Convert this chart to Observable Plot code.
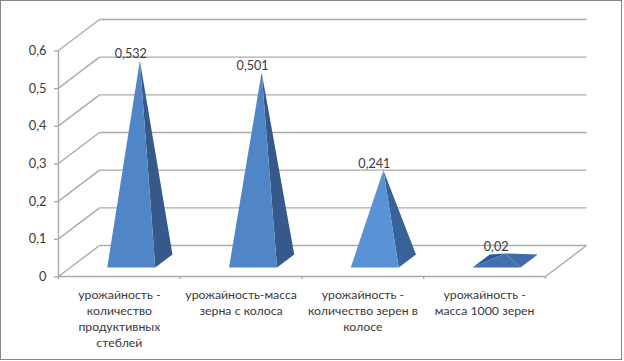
<!DOCTYPE html>
<html><head><meta charset="utf-8">
<script src="https://cdn.jsdelivr.net/npm/d3@7"></script>
<script src="https://cdn.jsdelivr.net/npm/@observablehq/plot@0.6"></script>
<style>
html,body{margin:0;padding:0;background:#fff;overflow:hidden}
#wrap{position:relative;width:624px;height:361px}
#wrap svg{display:block;position:absolute;left:0;top:0}
#frame{position:absolute;left:0;top:0;width:620px;height:358px;border:1.5px solid #868686;pointer-events:none}
</style></head><body>
<div id="wrap"><div id="frame"></div></div>
<script>
const categories = [
  "урожайность -\nколичество\nпродуктивных\nстеблей",
  "урожайность-масса\nзерна с колоса",
  "урожайность -\nколичество зерен в\nколосе",
  "урожайность -\nмасса 1000 зерен"
];
const values = [0.532, 0.501, 0.241, 0.02];
const valueLabels = ["0,532", "0,501", "0,241", "0,02"];
const yTicks = [0, 0.1, 0.2, 0.3, 0.4, 0.5, 0.6];
const frontColors = ["#5085c6", "#5085c6", "#5a92d6", "#4270ae"];
const sideColors = ["#35598a", "#35598a", "#38629a", "#3d6ca6"];

// oblique 3-D projection, in data units
const depthX = 0.3368, depthY = 0.0823;
const P = (c, v, d) => ({x: c + d * depthX, y: v + d * depthY});
const halfW = 0.197, d0 = 0.29, d1 = 0.71;

const grey = "#ababab", sw = 1.4;
const seg = (a, b) => ({x1: a.x, y1: a.y, x2: b.x, y2: b.y});
const backLines = yTicks.map(v => seg(P(0, v, 1), P(4, v, 1)));
const sideLines = yTicks.map(v => seg(P(0, v, 0), P(0, v, 1)));
const floorLines = [seg(P(0, 0, 0), P(4, 0, 0)), seg(P(4, 0, 0), P(4, 0, 1)), seg(P(0, 0, 0), P(0, 0.6, 0))];
const link = data => Plot.link(data, {x1: "x1", y1: "y1", x2: "x2", y2: "y2", stroke: grey, strokeWidth: sw});

const faces = values.flatMap((v, i) => {
  const c = i + 0.5, apex = P(c, v, 0.5);
  const fl = P(c - halfW, 0, d0), fr = P(c + halfW, 0, d0), br = P(c + halfW, 0, d1), bl = P(c - halfW, 0, d1);
  const out = [];
  if (v < 0.05) out.push({pts: [fl, bl, apex], fill: "#2f5b98"});
  out.push({pts: [fr, br, apex], fill: sideColors[i]});
  out.push({pts: [fl, fr, apex], fill: frontColors[i]});
  return out;
});
const faceMarks = faces.map(f => Plot.line(f.pts, {x: "x", y: "y", fill: f.fill, stroke: "none", curve: "linear"}));

const labelData = values.map((v, i) => ({...P(i + 0.5, v, 0.5), text: valueLabels[i]}));
const catData = categories.map((t, i) => ({x: i + 0.5, y: 0, text: t}));
const font = "Lato, 'Open Sans', sans-serif", ink = "#3a3a3a";

const chart = Plot.plot({
  width: 624, height: 361,
  marginLeft: 58, marginRight: 79, marginTop: 50, marginBottom: 85,
  x: {type: "linear", domain: [0, 4]},
  y: {type: "linear", domain: [0, 0.6]},
  style: {fontFamily: font, fontSize: "13px", color: ink, background: "transparent", overflow: "visible"},
  marks: [
    link(backLines), link(sideLines), link(floorLines),
    ...faceMarks,
    Plot.axisY({ticks: yTicks, tickSize: 4, tickPadding: 8, dy: 0.5, tickFormat: d => String(d).replace(".", ","), stroke: grey, strokeWidth: sw, label: null, fontSize: 12.8, fill: ink}),
    Plot.axisX({ticks: [0, 1, 2, 3, 4], tickSize: 3, tickFormat: () => "", stroke: grey, strokeWidth: sw, label: null}),
    Plot.text(labelData, {x: "x", y: "y", text: "text", dx: -9, dy: -6.5, fontSize: 12.6, fill: ink}),
    Plot.text(catData, {x: "x", y: "y", text: "text", dy: 11, lineAnchor: "top", lineHeight: 1.3, fontSize: 12.3, fill: ink})
  ]
});
document.getElementById("wrap").prepend(chart);
</script>
</body></html>
